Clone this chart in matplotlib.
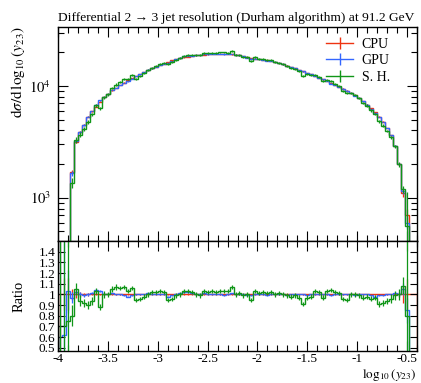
import numpy as np
import matplotlib
matplotlib.use('Agg')
import matplotlib.pyplot as plt
from matplotlib.lines import Line2D
from matplotlib.ticker import MultipleLocator, LogLocator, NullFormatter, FixedLocator

matplotlib.rcParams['font.family'] = 'Liberation Serif'
matplotlib.rcParams['mathtext.fontset'] = 'stix'
matplotlib.rcParams['axes.unicode_minus'] = False

nan = np.nan

# binning of log10(y23)
bin_lo = -4.0
bin_width = 0.04
n_bins = 90

# CPU cross section per bin
cpu = [1, 60, 250, 1700, 3150, 3900, 4500, 5300, 5900, 6500,
       7200, 7900, 8400, 9100, 9600, 10200, 10700, 11200, 11700, 12200,
       12800, 13300, 13800, 14300, 14850, 15300, 15800, 16400, 16900, 17300,
       17700, 18000, 18300, 18500, 18700, 18900, 19000, 19150, 19200, 19300,
       19300, 19300, 19250, 19150, 19000, 18700, 18400, 18000, 17700, 17500,
       17300, 17100, 16900, 16600, 16300, 16000, 15600, 15200, 14800, 14300,
       13900, 13500, 13100, 12700, 12200, 11800, 11400, 11000, 10600, 10200,
       9850, 9450, 9050, 8650, 8250, 7800, 7300, 6800, 6300, 5800,
       5300, 4800, 4200, 3600, 2900, 2000, 1100, 700, 0, 0]

# GPU / CPU
gpu_ratio = [0.6, 0.62, 1.03, 0.97, 1.02, 1.0, 0.99, 1.0, 1.01, 1.04,
             1.03, 1.0, 1.0, 1.01, 1.0, 1.0, 0.99, 0.98, 0.99, 1.0,
             1.0, 1.0, 1.01, 1.0, 1.0, 1.0, 1.0, 0.98, 0.99, 1.0,
             1.01, 1.02, 1.02, 1.01, 1.0, 1.0, 1.01, 1.0, 1.0, 1.0,
             1.0, 0.99, 1.0, 1.01, 1.0, 1.0, 1.0, 0.99, 0.99, 1.0,
             1.0, 1.0, 0.99, 1.0, 1.0, 1.0, 1.0, 0.99, 1.0, 1.0,
             1.0, 1.0, 0.99, 1.0, 1.0, 1.0, 1.0, 1.0, 0.99, 1.0,
             1.0, 1.0, 1.0, 1.0, 0.99, 1.0, 1.0, 1.0, 0.99, 0.98,
             0.99, 0.99, 1.0, 1.0, 1.01, 1.0, 1.05, 0.85, nan, nan]

# S. H. / CPU
sh_ratio = [0.7, 0.7, 0.75, 0.8, 1.05, 0.94, 0.92, 0.9, 0.94, 1.03,
            0.88, 1.0, 1.0, 1.05, 1.07, 1.06, 1.07, 1.03, 1.06, 0.95,
            0.96, 0.98, 1.0, 1.02, 1.02, 1.03, 1.02, 0.95, 0.96, 0.99,
            1.0, 1.03, 1.03, 1.02, 1.0, 0.99, 1.03, 1.02, 1.03, 1.02,
            1.03, 1.03, 1.03, 1.07, 1.0, 1.01, 0.99, 1.0, 0.95, 1.03,
            1.01, 1.02, 1.015, 1.02, 1.0, 1.01, 1.0, 0.99, 0.98, 0.99,
            0.97, 0.91, 0.97, 0.98, 1.03, 1.02, 0.97, 1.03, 1.04, 1.02,
            1.01, 0.96, 0.95, 1.0, 1.0, 0.99, 0.97, 0.98, 0.96, 0.97,
            0.91, 0.92, 0.94, 0.96, 0.99, 1.0, 1.08, 0.8, nan, nan]

# relative uncertainties
cpu_err = [1.0, 0.15, 0.15, 0.05, 0.03, 0.02, 0.015, 0.012, 0.01, 0.01,
           0.008, 0.008, 0.007, 0.007, 0.006, 0.006, 0.006, 0.005, 0.005, 0.005,
           0.005, 0.005, 0.005, 0.005, 0.005, 0.005, 0.005, 0.005, 0.005, 0.005,
           0.005, 0.005, 0.005, 0.005, 0.005, 0.005, 0.005, 0.005, 0.005, 0.005,
           0.005, 0.005, 0.005, 0.005, 0.005, 0.005, 0.005, 0.005, 0.005, 0.005,
           0.005, 0.005, 0.005, 0.005, 0.005, 0.005, 0.005, 0.005, 0.005, 0.005,
           0.005, 0.005, 0.005, 0.005, 0.005, 0.005, 0.005, 0.005, 0.005, 0.005,
           0.005, 0.005, 0.005, 0.005, 0.005, 0.005, 0.005, 0.005, 0.006, 0.006,
           0.006, 0.006, 0.007, 0.008, 0.01, 0.02, 0.08, 0.14, 0.0, 0.0]
gpu_err = [1.0, 1.0, 0.2, 0.05, 0.03, 0.02, 0.015, 0.012, 0.01, 0.01,
           0.008, 0.008, 0.007, 0.007, 0.006, 0.006, 0.006, 0.005, 0.005, 0.005,
           0.005, 0.005, 0.005, 0.005, 0.005, 0.005, 0.005, 0.005, 0.005, 0.005,
           0.005, 0.005, 0.005, 0.005, 0.005, 0.005, 0.005, 0.005, 0.005, 0.005,
           0.005, 0.005, 0.005, 0.005, 0.005, 0.005, 0.005, 0.005, 0.005, 0.005,
           0.005, 0.005, 0.005, 0.005, 0.005, 0.005, 0.005, 0.005, 0.005, 0.005,
           0.005, 0.005, 0.005, 0.005, 0.005, 0.005, 0.005, 0.005, 0.005, 0.005,
           0.005, 0.005, 0.005, 0.005, 0.005, 0.005, 0.005, 0.005, 0.006, 0.006,
           0.006, 0.006, 0.007, 0.008, 0.01, 0.02, 0.06, 0.12, 0.0, 0.0]
sh_err = [1.0, 1.0, 1.0, 0.1, 0.06, 0.05, 0.04, 0.04, 0.035, 0.03,
          0.03, 0.03, 0.025, 0.025, 0.025, 0.02, 0.02, 0.02, 0.02, 0.02,
          0.02, 0.02, 0.02, 0.02, 0.02, 0.02, 0.02, 0.02, 0.02, 0.02,
          0.02, 0.02, 0.02, 0.02, 0.02, 0.02, 0.02, 0.02, 0.02, 0.02,
          0.02, 0.02, 0.02, 0.02, 0.02, 0.02, 0.02, 0.02, 0.02, 0.02,
          0.02, 0.02, 0.02, 0.02, 0.02, 0.02, 0.02, 0.02, 0.02, 0.02,
          0.02, 0.02, 0.02, 0.02, 0.02, 0.02, 0.02, 0.02, 0.02, 0.02,
          0.02, 0.02, 0.02, 0.02, 0.02, 0.02, 0.02, 0.025, 0.025, 0.025,
          0.03, 0.03, 0.03, 0.04, 0.04, 0.05, 0.08, 1.0, 0.0, 0.0]

labels = ['CPU', 'GPU', 'S. H.']
colors = ['#EE3311', '#3366FF', '#109618']

edges = bin_lo + bin_width * np.arange(n_bins + 1)
centers = 0.5 * (edges[1:] + edges[:-1])

cpu = np.array(cpu, dtype=float)
ratios = [np.ones(n_bins), np.array(gpu_ratio), np.array(sh_ratio)]
errs = [np.array(cpu_err), np.array(gpu_err), np.array(sh_err)]
values = [cpu * r for r in ratios]

fig = plt.figure(figsize=(4.21, 3.83), dpi=100)
ax = fig.add_axes([58 / 421, 1 - 241 / 383, 359 / 421, 214 / 383])
rax = fig.add_axes([58 / 421, 1 - 351 / 383, 359 / 421, 110 / 383], sharex=ax)

for vals, rat, err, c in zip(values, ratios, errs, colors):
    ax.stairs(np.where(vals > 0, vals, 1e-3), edges, color=c, lw=1.0)
    ax.errorbar(centers, vals, yerr=vals * err, fmt='none', ecolor=c, elinewidth=0.9)
    rax.stairs(rat, edges, color=c, lw=1.0)
    rax.errorbar(centers, rat, yerr=err, fmt='none', ecolor=c, elinewidth=0.9)

ax.set_yscale('log')
ax.set_ylim(410, 33600)
ax.set_xlim(-4.0, -0.4)
ax.yaxis.set_major_locator(FixedLocator([1e3, 1e4]))
ax.yaxis.set_minor_locator(LogLocator(base=10, subs=np.arange(2, 10)))
ax.yaxis.set_minor_formatter(NullFormatter())
ax.set_yticklabels([r'$10^3$', r'$10^4$'])
ax.tick_params(labelbottom=False)

rax.set_ylim(0.47, 1.5)
rax.set_yticks([0.5, 0.6, 0.7, 0.8, 0.9, 1.0, 1.1, 1.2, 1.3, 1.4])
rax.set_yticklabels(['0.5', '0.6', '0.7', '0.8', '0.9', '1', '1.1', '1.2', '1.3', '1.4'])
rax.set_xticks([-4, -3.5, -3, -2.5, -2, -1.5, -1, -0.5])
rax.set_xticklabels(['-4', '-3.5', '-3', '-2.5', '-2', '-1.5', '-1', '-0.5'])

for a in (ax, rax):
    a.xaxis.set_minor_locator(MultipleLocator(0.1))
    a.tick_params(which='both', direction='in', top=True, right=True, width=0.8)
    a.tick_params(which='major', length=7.5, labelsize=10)
    a.tick_params(which='minor', length=4)
    for s in a.spines.values():
        s.set_linewidth(1.0)
ax.tick_params(axis='y', which='major', labelsize=10.5, pad=5)
rax.tick_params(axis='y', which='major', length=5, labelsize=9.5, pad=2)
rax.tick_params(axis='x', which='major', labelsize=9.5, pad=1.5)

ax.set_title('Differential 2 \u2192 3 jet resolution (Durham algorithm) at 91.2 GeV',
             loc='left', fontsize=9.7, pad=4)
ax.set_ylabel(r'$\mathrm{d}\sigma/\mathrm{d}\,\log_{10}(y_{23})$', fontsize=11,
              ha='right')
ax.yaxis.set_label_coords(-0.085, 1.0)
rax.set_ylabel('Ratio', fontsize=10.5)
rax.yaxis.set_label_coords(-0.09, 0.5)
rax.set_xlabel(r'$\log_{10}(y_{23})$', fontsize=9.5)
rax.xaxis.set_label_coords(1.0, -0.145)
rax.xaxis.label.set_ha('right')

handles = [Line2D([0], [0], color=c, lw=1.0, marker='|', markersize=9, mew=1.0) for c in colors]
ax.legend(handles, labels, loc='upper left', bbox_to_anchor=(0.72, 0.995), frameon=False,
          fontsize=10, handlelength=1.95, handletextpad=0.6, labelspacing=0.25,
          borderpad=0.2)

fig.savefig('out.png', dpi=100)
